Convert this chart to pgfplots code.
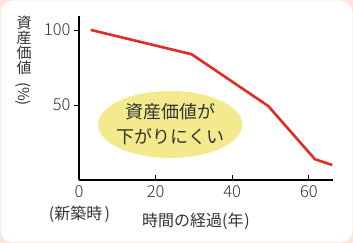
\documentclass[border=0pt]{standalone}
\usepackage{pgfplots}
\pgfplotsset{compat=1.18}
\usepackage{fontspec}
\setmainfont{Noto Sans CJK JP}
\newfontfamily\digfont{Noto Sans CJK JP}[UprightFont=* Light]
\definecolor{linered}{HTML}{E42A24}
\definecolor{ell}{HTML}{F2EA8C}
\definecolor{txt}{HTML}{333333}
\definecolor{bgpink}{HTML}{FBE4DC}
\begin{document}
\begin{tikzpicture}[x=1pt,y=1pt]
\fill[bgpink] (0,0) rectangle (353,243);
\fill[white,rounded corners=12pt] (0.5,0.5) rectangle (352.5,242.5);
\begin{axis}[
  at={(79pt,63pt)}, anchor=south west, scale only axis,
  width=254pt, height=164pt,
  xmin=0, xmax=66.3, ymin=0, ymax=109.3,
  axis lines*=left,
  xtick={0,20,40,60}, ytick={50,100},
  xtick align=inside, ytick align=outside,
  major tick length=5pt,
  tick style={black, line width=0.8pt},
  axis line style={black, line width=1.2pt},
  ticklabel style={font=\digfont\fontsize{16.5}{16.5}\selectfont, text=txt},
  xticklabel style={yshift=-2pt},
  /pgf/number format/assume math mode=true,
  clip=false,
]
\fill[ell] (axis cs:23.8,37) ellipse [x radius=72pt, y radius=33.5pt];
\node[align=center, font=\fontsize{18}{25}\selectfont, text=txt] at (axis cs:23.8,37) {資産価値が\\下がりにくい};
\addplot[linered, line width=2.6pt] coordinates {(3.1,100) (29.4,83.8) (49.4,49.3) (61.6,13.8) (66.1,10)};
\end{axis}
\node[font=\fontsize{16}{16}\selectfont, text=txt] at (79.5,29) {(新築時\kern2.5pt)};
\node[font=\fontsize{16}{16}\selectfont, text=txt] at (196,22) {時間の経過(年\kern1pt)};
\node[font=\fontsize{15}{15}\selectfont, text=txt] at (24,220.5) {資};
\node[font=\fontsize{15}{15}\selectfont, text=txt] at (24,205.5) {産};
\node[font=\fontsize{15}{15}\selectfont, text=txt] at (24,190.5) {価};
\node[font=\fontsize{15}{15}\selectfont, text=txt] at (24,175.5) {値};
\node[font=\fontsize{15}{15}\selectfont, text=txt, rotate=-90] at (23.5,149) {(\%)};
\end{tikzpicture}
\end{document}
